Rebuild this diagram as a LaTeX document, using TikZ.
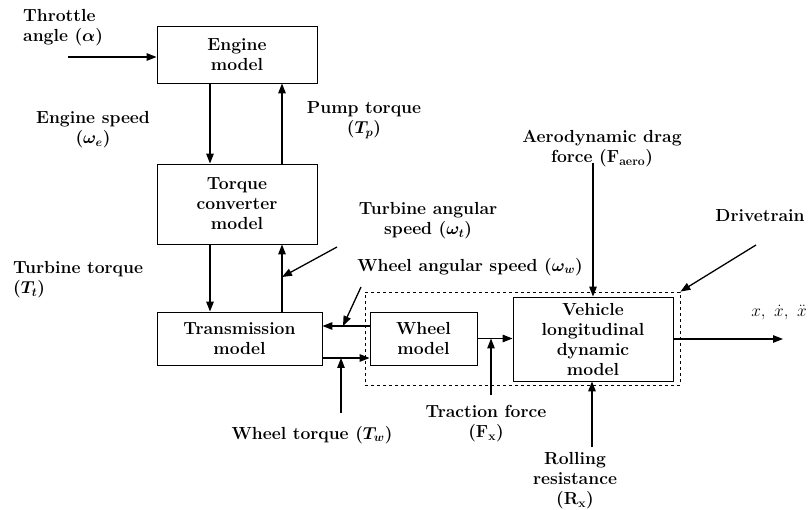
\documentclass[tikz,border=0pt]{standalone}
\usepackage{amsmath}
\usetikzlibrary{arrows.meta}
\begin{document}
\begin{tikzpicture}[x=1pt,y=-1pt,
  font=\fontsize{17.5}{20}\selectfont\bfseries\boldmath,
  blk/.style={draw,line width=0.9pt,inner sep=0pt,align=center},
  lbl/.style={inner sep=0pt,align=center},
  arr/.style={line width=1.3pt,-{Triangle[length=10pt,width=7.5pt]}},
  dashbox/.style={draw,dashed,line width=0.8pt,inner sep=0pt}]
\useasboundingbox (0,0) rectangle (811,510);
% blocks
\node[blk,minimum width=160pt,minimum height=57pt] (engine) at (237,54.5) {Engine\\model};
\node[blk,minimum width=160pt,minimum height=80pt] (tc) at (237,204) {Torque\\converter\\model};
\node[blk,minimum width=165pt,minimum height=53pt] (trans) at (239.5,338.5) {Transmission\\model};
\node[blk,minimum width=107pt,minimum height=53pt] (wheel) at (423.5,338.5) {Wheel\\model};
\node[blk,minimum width=160pt,minimum height=84pt] (veh) at (593,339) {Vehicle\\longitudinal\\dynamic\\model};
\node[dashbox,minimum width=315pt,minimum height=93pt] (drv) at (522.5,338.5) {};
% labels
\node[lbl,anchor=west,align=left] (lthr) at (23,28) {Throttle\\angle ($\alpha$)};
\node[lbl] (lesp) at (93,130) {Engine speed\\($\omega_e$)};
\node[lbl] (lpump) at (364,120) {Pump torque\\($T_p$)};
\node[lbl] (lturb) at (428,221) {Turbine angular\\speed ($\omega_t$)};
\node[lbl,anchor=west,align=left] (lttq) at (13,280) {Turbine torque\\($T_t$)};
\node[lbl] (lwas) at (470,267) {Wheel angular speed ($\omega_w$)};
\node[lbl] (lwtq) at (312,435) {Wheel torque ($T_w$)};
\node[lbl] (ltrac) at (486,424) {Traction force\\(F\textsubscript{x})};
\node[lbl] (lroll) at (575,481) {Rolling\\resistance\\(R\textsubscript{x})};
\node[lbl] (laero) at (602,149) {Aerodynamic drag\\force (F\textsubscript{aero})};
\node[lbl] (ldrv) at (760,216) {Drivetrain};
\node[lbl,font=\fontsize{19}{22}\selectfont] (lout) at (779,313) {$x,\ \dot{x},\ \ddot{x}$};
% free ends and guide coordinates
\coordinate (colA) at (210,0);
\coordinate (colB) at (282,0);
\coordinate (rowA) at (0,326);
\coordinate (rowB) at (0,358);
\coordinate (thrS) at (68,57);
\coordinate (turbS) at (337,247);
\coordinate (turbE) at (282,277);
\coordinate (wasS) at (361,287);
\coordinate (wasE) at (343,326);
\coordinate (wtqS) at (341,413);
\coordinate (tracS) at (491,395);
\coordinate (aeroS) at (593,163);
\coordinate (drvS) at (756,245);
\coordinate (outE) at (783,339);
\coordinate (rollS) at (592,447);
% connectors
\draw[arr] (thrS) -- (thrS -| engine.west);
\draw[arr] (engine.south -| colA) -- (tc.north -| colA);
\draw[arr] (tc.north -| colB) -- (engine.south -| colB);
\draw[arr] (tc.south -| colA) -- (trans.north -| colA);
\draw[arr] (trans.north -| colB) -- (tc.south -| colB);
\draw[arr] (turbS) -- (turbE);
\draw[arr] (wheel.west |- rowA) -- (trans.east |- rowA);
\draw[arr] (wasS) -- (wasE);
\draw[arr] (trans.east |- rowB) -- (wheel.west |- rowB);
\draw[arr] (wtqS) -- (wtqS |- rowB);
\draw[arr] (wheel.east) -- (veh.west |- wheel.east);
\draw[arr] (tracS) -- (tracS |- wheel.east);
\draw[arr] (aeroS) -- (aeroS |- veh.north);
\draw[arr] (drvS) -- (drv.north east);
\draw[arr] (veh.east) -- (outE);
\draw[arr] (rollS) -- (rollS |- veh.south);
\end{tikzpicture}
\end{document}
